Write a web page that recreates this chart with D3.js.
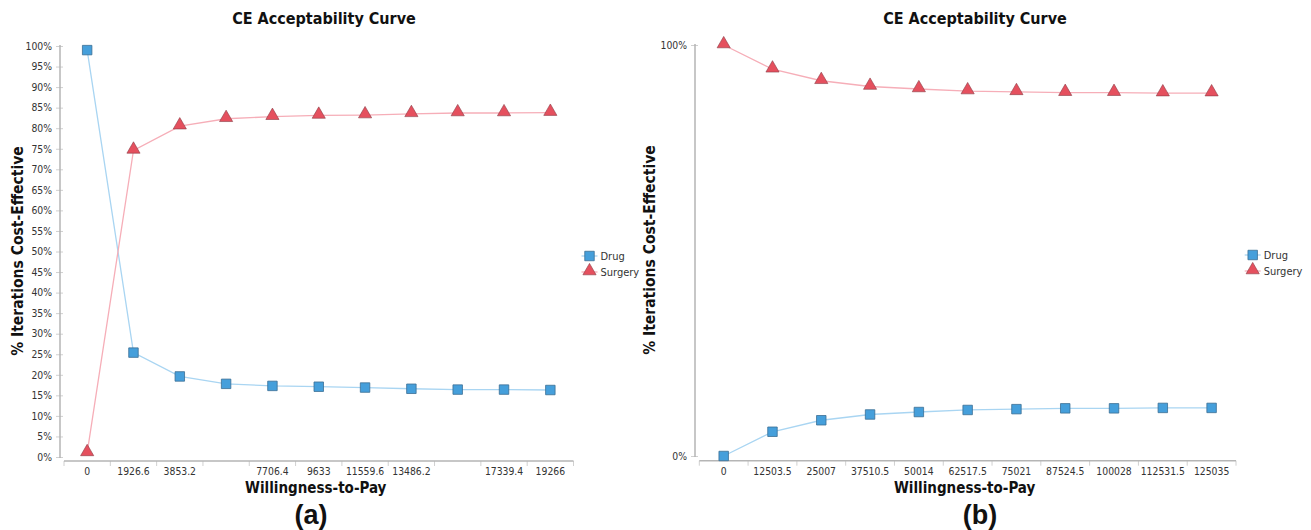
<!DOCTYPE html>
<html>
<head>
<meta charset="utf-8">
<script src="https://cdn.jsdelivr.net/npm/d3@7"></script>
<style>
  html, body { margin: 0; padding: 0; background: #fff; }
  svg { display: block; }
  .tick-label { font-family: "DejaVu Sans Condensed", "DejaVu Sans", sans-serif; font-stretch: condensed; font-size: 10.3px; fill: #333; }
  .title, .axis-title { font-family: "DejaVu Sans Condensed", "DejaVu Sans", sans-serif; font-stretch: condensed; font-weight: bold; fill: #111; }
  .legend-text { font-family: "DejaVu Sans Condensed", "DejaVu Sans", sans-serif; font-stretch: condensed; font-size: 11px; fill: #333; }
  .panel-tag { font-family: "Liberation Sans", Arial, sans-serif; font-weight: bold; font-size: 27px; fill: #111; }
</style>
</head>
<body>
<svg id="chart" width="1311" height="530"></svg>
<script>
// Panel (a): willingness-to-pay steps and acceptability (%)
const wtpA = ["0", "1926.6", "3853.2", "5779.8", "7706.4", "9633", "11559.6", "13486.2", "15412.8", "17339.4", "19266"];
const tickLabelsA = ["0", "1926.6", "3853.2", "", "7706.4", "9633", "11559.6", "13486.2", "", "17339.4", "19266"];
const drugA = [99.0, 25.4, 19.6, 17.8, 17.3, 17.1, 16.9, 16.6, 16.4, 16.4, 16.3];
const surgeryA = [1.0, 74.6, 80.5, 82.3, 82.8, 83.1, 83.2, 83.5, 83.7, 83.7, 83.8];
const yTicksA = [0, 5, 10, 15, 20, 25, 30, 35, 40, 45, 50, 55, 60, 65, 70, 75, 80, 85, 90, 95, 100];

// Panel (b)
const wtpB = ["0", "12503.5", "25007", "37510.5", "50014", "62517.5", "75021", "87524.5", "100028", "112531.5", "125035"];
const tickLabelsB = wtpB.slice();
const drugB = [0.0, 5.9, 8.7, 10.1, 10.7, 11.2, 11.4, 11.6, 11.6, 11.7, 11.7];
const surgeryB = [100.0, 94.1, 91.3, 89.9, 89.3, 88.8, 88.6, 88.4, 88.4, 88.3, 88.3];
const yTicksB = [0, 100];

const seriesNames = ["Drug", "Surgery"];

const COLORS = {
  drugLine: "#a9d5f2", drugFill: "#459fdb", drugStroke: "#3b6f94",
  surgLine: "#f6aeb8", surgFill: "#e5505e", surgStroke: "#8a3a44",
  axis: "#b5b5b5", tick: "#d0d0d0"
};

const svg = d3.select("#chart");

function drawPanel(cfg) {
  const g = svg.append("g");
  const x = d3.scaleBand().domain(cfg.cats).range([cfg.x0, cfg.x1]).padding(0);
  const y = d3.scaleLinear().domain([0, 100]).range([cfg.yBottom, cfg.yTop]);

  // title
  g.append("text").attr("class", "title")
    .attr("x", cfg.titleX).attr("y", 24)
    .attr("text-anchor", "middle").style("font-size", "16px")
    .text("CE Acceptability Curve");

  // y axis
  const yAxis = d3.axisLeft(y).tickValues(cfg.yTicks).tickFormat(d => d + "%").tickSize(0).tickPadding(8);
  const ya = g.append("g").attr("transform", `translate(${cfg.yAxisX},0)`).call(yAxis);
  ya.select(".domain").remove();
  ya.selectAll(".tick text").attr("class", "tick-label").attr("fill", null);
  ya.selectAll(".tick").append("line")
    .attr("x1", -4).attr("x2", 3).attr("stroke", COLORS.tick).attr("stroke-width", 1);
  g.append("line")
    .attr("x1", cfg.yAxisX).attr("x2", cfg.yAxisX)
    .attr("y1", y(100) - 1).attr("y2", y(0) + 1)
    .attr("stroke", COLORS.axis).attr("stroke-width", 1.5);

  // x axis: labels at band centres, ticks at band edges
  const xAxis = d3.axisBottom(x).tickSize(0).tickPadding(7)
    .tickFormat((d, i) => cfg.tickLabels[i]);
  const xa = g.append("g").attr("transform", `translate(0,${cfg.xAxisY})`).call(xAxis);
  xa.select(".domain").remove();
  xa.selectAll(".tick text").attr("class", "tick-label").attr("fill", null);
  const edges = cfg.cats.map(c => x(c)).concat([x.range()[1]]);
  g.selectAll(null).data(edges).enter().append("line")
    .attr("x1", d => d).attr("x2", d => d)
    .attr("y1", cfg.xAxisY).attr("y2", cfg.xAxisY + 5)
    .attr("stroke", COLORS.tick).attr("stroke-width", 1);
  g.append("line")
    .attr("x1", cfg.x0).attr("x2", cfg.x1)
    .attr("y1", cfg.xAxisY).attr("y2", cfg.xAxisY)
    .attr("stroke", COLORS.axis).attr("stroke-width", 1.5);

  // axis titles
  g.append("text").attr("class", "axis-title")
    .attr("x", (cfg.x0 + cfg.x1) / 2 - 3).attr("y", 493)
    .attr("text-anchor", "middle").style("font-size", "15px")
    .text("Willingness-to-Pay");
  g.append("text").attr("class", "axis-title")
    .attr("transform", `translate(${cfg.yTitleX},${cfg.yTitleY}) rotate(-90)`)
    .attr("text-anchor", "middle").style("font-size", "15.5px")
    .text("% Iterations Cost-Effective");

  // series
  const cx = d => x(d.cat) + x.bandwidth() / 2;
  const line = d3.line().x(cx).y(d => y(d.v));
  const drug = cfg.cats.map((c, i) => ({ cat: c, v: cfg.drug[i] }));
  const surg = cfg.cats.map((c, i) => ({ cat: c, v: cfg.surgery[i] }));

  g.append("path").datum(drug).attr("d", line)
    .attr("fill", "none").attr("stroke", COLORS.drugLine).attr("stroke-width", 1.3);
  g.append("path").datum(surg).attr("d", line)
    .attr("fill", "none").attr("stroke", COLORS.surgLine).attr("stroke-width", 1.3);

  const sq = d3.symbol().type(d3.symbolSquare).size(90);
  const tri = d3.symbol().type(d3.symbolTriangle).size(75);

  g.selectAll(null).data(drug).enter().append("path")
    .attr("d", sq).attr("transform", d => `translate(${cx(d)},${y(d.v)})`)
    .attr("fill", COLORS.drugFill).attr("stroke", COLORS.drugStroke).attr("stroke-width", 0.8);
  g.selectAll(null).data(surg).enter().append("path")
    .attr("d", tri).attr("transform", d => `translate(${cx(d)},${y(d.v) - 1})`)
    .attr("fill", COLORS.surgFill).attr("stroke", COLORS.surgStroke).attr("stroke-width", 0.6);

  // legend
  const leg = g.append("g");
  seriesNames.forEach((name, i) => {
    const ly = cfg.legendY + i * 16;
    const isDrug = i === 0;
    leg.append("line")
      .attr("x1", cfg.legendX - 8).attr("x2", cfg.legendX + 8)
      .attr("y1", ly).attr("y2", ly)
      .attr("stroke", isDrug ? COLORS.drugLine : COLORS.surgLine).attr("stroke-width", 1.3);
    leg.append("path")
      .attr("d", isDrug ? sq : tri)
      .attr("transform", `translate(${cfg.legendX},${isDrug ? ly : ly - 1})`)
      .attr("fill", isDrug ? COLORS.drugFill : COLORS.surgFill)
      .attr("stroke", isDrug ? COLORS.drugStroke : COLORS.surgStroke)
      .attr("stroke-width", isDrug ? 0.8 : 0.6);
    leg.append("text").attr("class", "legend-text")
      .attr("x", cfg.legendX + 11).attr("y", ly + 4)
      .text(name);
  });

  // panel tag
  g.append("text").attr("class", "panel-tag")
    .attr("x", cfg.tagX).attr("y", 524)
    .attr("text-anchor", "middle")
    .text(cfg.tag);
}

drawPanel({
  cats: wtpA, tickLabels: tickLabelsA, drug: drugA, surgery: surgeryA, yTicks: yTicksA,
  x0: 64, x1: 573.5, yTop: 46, yBottom: 457, yAxisX: 60, xAxisY: 461,
  titleX: 324, yTitleX: 23, yTitleY: 251,
  legendX: 589.5, legendY: 256, tagX: 311, tag: "(a)"
});

drawPanel({
  cats: wtpB, tickLabels: tickLabelsB, drug: drugB, surgery: surgeryB, yTicks: yTicksB,
  x0: 699.3, x1: 1236, yTop: 45, yBottom: 456, yAxisX: 695, xAxisY: 460.7,
  titleX: 975, yTitleX: 655, yTitleY: 250,
  legendX: 1252.7, legendY: 255, tagX: 980, tag: "(b)"
});
</script>
</body>
</html>
